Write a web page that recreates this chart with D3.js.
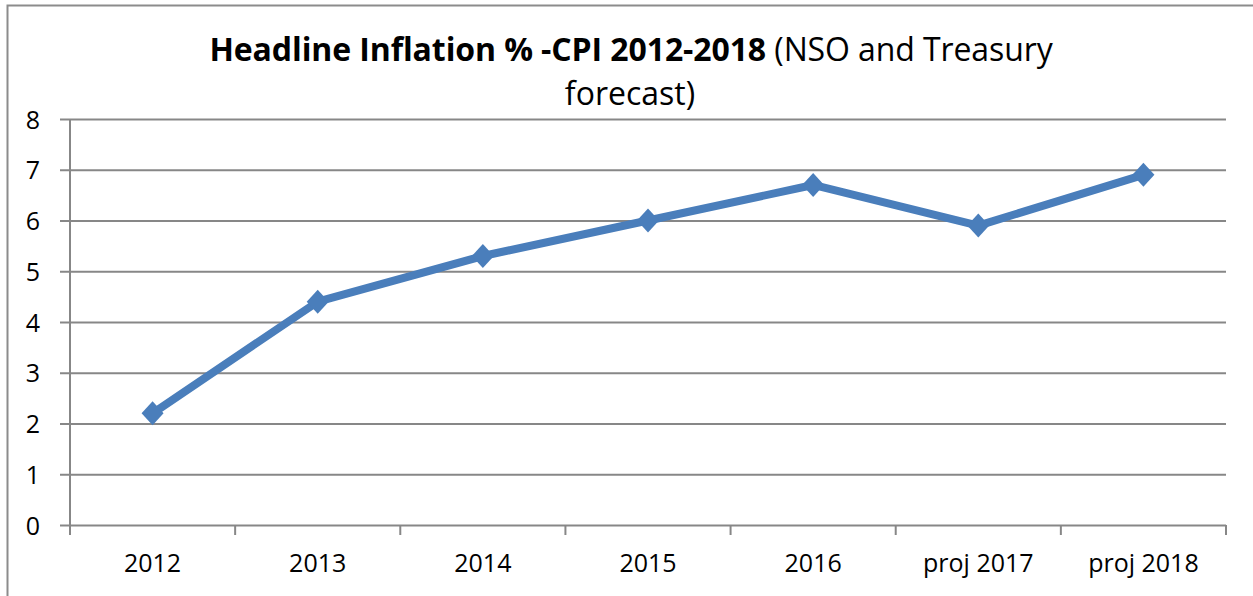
<!DOCTYPE html>
<html>
<head>
<meta charset="utf-8">
<script src="https://cdn.jsdelivr.net/npm/d3@7"></script>
<style>
  body { margin: 0; background: #fff; }
  text { font-family: "Open Sans", sans-serif; fill: #000; }
</style>
</head>
<body>
<svg id="chart" width="1253" height="596"></svg>
<script>
// Chart data
const categories = ["2012", "2013", "2014", "2015", "2016", "proj 2017", "proj 2018"];
const inflation = [2.2, 4.4, 5.3, 6.0, 6.7, 5.9, 6.9];
const yTicks = [0, 1, 2, 3, 4, 5, 6, 7, 8];

const svg = d3.select("#chart");
const W = 1253, H = 596;
const plot = { left: 70, right: 1226, top: 119, bottom: 525 };
const gridColor = "#878787";
const seriesColor = "#4a7ebb";

// outer frame (only top and left edges fall inside the picture)
svg.append("path")
  .attr("d", `M7.5,${H} L7.5,5.5 L${W},5.5`)
  .attr("fill", "none")
  .attr("stroke", "#8c8c8c")
  .attr("stroke-width", 2);

// Title
const title = svg.append("text")
  .attr("x", 631).attr("y", 61)
  .attr("text-anchor", "middle")
  .attr("font-size", 32)
  .attr("letter-spacing", -0.1);
title.append("tspan")
  .attr("font-weight", "bold")
  .text("Headline Inflation % -CPI 2012-2018");
title.append("tspan")
  .text(" (NSO and Treasury");
svg.append("text")
  .attr("x", 630).attr("y", 105)
  .attr("text-anchor", "middle")
  .attr("font-size", 32)
  .text("forecast)");

// Scales
const x = d3.scaleBand().domain(categories).range([plot.left, plot.right]);
const y = d3.scaleLinear().domain([0, 8]).range([plot.bottom, plot.top]);

// Gridlines + y ticks
const yAxis = d3.axisLeft(y)
  .tickValues(yTicks)
  .tickSize(-(plot.right - plot.left))
  .tickFormat(d3.format("d"));
const gy = svg.append("g")
  .attr("transform", `translate(${plot.left},0)`)
  .call(yAxis);
gy.select(".domain").remove();
gy.selectAll(".tick line")
  .attr("x1", -10)
  .attr("stroke", gridColor)
  .attr("stroke-width", 2);
gy.selectAll(".tick text")
  .attr("font-size", 25)
  .attr("x", -30)
  .attr("dy", "0.36em")
  .attr("text-anchor", "end")
  .attr("fill", "#000");

// vertical axis line
svg.append("line")
  .attr("x1", plot.left).attr("x2", plot.left)
  .attr("y1", plot.top).attr("y2", plot.bottom + 10)
  .attr("stroke", gridColor)
  .attr("stroke-width", 2);

// x axis: labels centred in bands, tick marks at band boundaries
const xAxis = d3.axisBottom(x).tickSize(0);
const gx = svg.append("g")
  .attr("transform", `translate(0,${plot.bottom})`)
  .call(xAxis);
gx.select(".domain").remove();
gx.selectAll(".tick text")
  .attr("font-size", 25)
  .attr("y", 47)
  .attr("dy", 0)
  .attr("fill", "#000");
const bounds = [plot.left].concat(categories.map(c => x(c) + x.bandwidth()));
svg.append("g").selectAll("line")
  .data(bounds)
  .join("line")
  .attr("x1", d => d).attr("x2", d => d)
  .attr("y1", plot.bottom).attr("y2", plot.bottom + 10)
  .attr("stroke", gridColor)
  .attr("stroke-width", 2);

// Series line
const cx = (d, i) => x(categories[i]) + x.bandwidth() / 2;
const line = d3.line()
  .x(cx)
  .y(d => y(d));
svg.append("path")
  .datum(inflation)
  .attr("d", line)
  .attr("fill", "none")
  .attr("stroke", seriesColor)
  .attr("stroke-width", 8)
  .attr("stroke-linejoin", "round");

// Diamond markers
const mw = 11, mh = 12;
svg.append("g").selectAll("path")
  .data(inflation)
  .join("path")
  .attr("d", `M0,${-mh} L${mw},0 L0,${mh} L${-mw},0 Z`)
  .attr("transform", (d, i) => `translate(${cx(d, i)},${y(d)})`)
  .attr("fill", seriesColor);
</script>
</body>
</html>
